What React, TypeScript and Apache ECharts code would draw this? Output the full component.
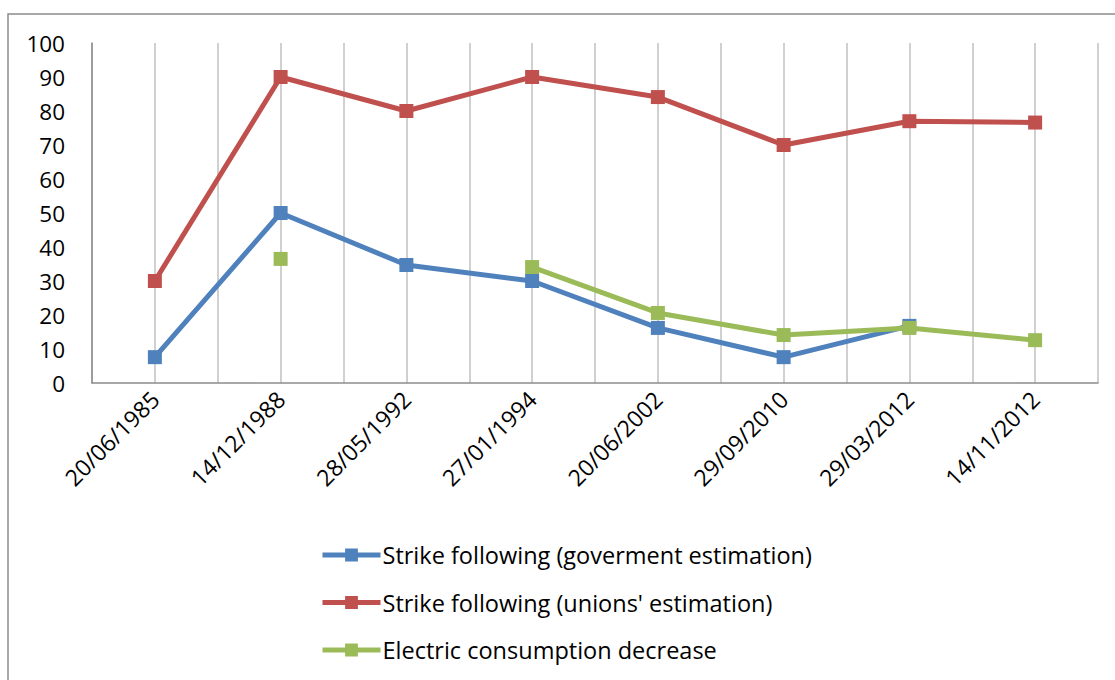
import React, { useEffect, useRef } from "react";
import * as echarts from "echarts";

const categories = ["20/06/1985", "14/12/1988", "28/05/1992", "27/01/1994", "20/06/2002", "29/09/2010", "29/03/2012", "14/11/2012"];
const govValues: (number | null)[] = [7.6, 50, 34.7, 30, 16.2, 7.6, 16.8, null];
const unionValues: (number | null)[] = [30, 90, 80, 90, 84.1, 70, 77, 76.6];
const electricValues: (number | null)[] = [null, 36.5, null, 34.1, 20.6, 14.1, 16.2, 12.6];
const seriesNames = ["Strike following (goverment estimation)", "Strike following (unions' estimation)", "Electric consumption decrease"];
const colors = ["#4F81BD", "#C0504D", "#9BBB59"];

const FONT = "Open Sans";

function toPoints(vals: (number | null)[]) {
  return vals.map((v, i) => [i, v === null ? null : v]);
}

export default function App() {
  const ref = useRef<HTMLDivElement>(null);
  useEffect(() => {
    if (!ref.current) return;
    const chart = echarts.init(ref.current, undefined, { renderer: "svg" });
    const all = [govValues, unionValues, electricValues];
    chart.setOption({
      animation: false,
      backgroundColor: "#ffffff",
      graphic: [
        {
          type: "rect",
          shape: { x: 8, y: 14, width: 1120, height: 700 },
          style: { fill: "none", stroke: "#8c8c8c", lineWidth: 1.5 },
          silent: true,
        },
      ],
      grid: { left: 92, right: 17, top: 43, bottom: 297, containLabel: false },
      xAxis: {
        type: "value",
        min: -0.5,
        max: 7.5,
        interval: 0.5,
        axisLine: { show: true, lineStyle: { color: "#8c8c8c", width: 1.5 } },
        axisTick: { show: false },
        splitLine: { show: true, lineStyle: { color: "#c0c0c0", width: 1.5 } },
        axisLabel: {
          rotate: 45,
          margin: 12,
          fontFamily: FONT,
          fontSize: 23,
          color: "#000",
          showMinLabel: true,
          showMaxLabel: true,
          formatter: (v: number) => (Number.isInteger(v) && v >= 0 && v < categories.length ? categories[v] : ""),
        },
      },
      yAxis: {
        type: "value",
        min: 0,
        max: 100,
        interval: 10,
        axisLine: { show: true, onZero: false, lineStyle: { color: "#8c8c8c", width: 1.5 } },
        axisTick: { show: false },
        splitLine: { show: false },
        axisLabel: { fontFamily: FONT, fontSize: 22.5, color: "#000", margin: 27 },
      },
      legend: {
        orient: "vertical",
        left: 315,
        top: 538,
        itemWidth: 58,
        itemHeight: 16,
        itemGap: 23.5,
        lineStyle: { width: 5 },
        textStyle: { fontFamily: FONT, fontSize: 23.5, color: "#000", padding: [0, 0, 0, -3] },
        data: seriesNames,
      },
      series: all.map((vals, i) => ({
        name: seriesNames[i],
        type: "line",
        data: toPoints(vals),
        connectNulls: false,
        symbol: "rect",
        symbolSize: 14,
        showAllSymbol: true,
        lineStyle: { width: 5, color: colors[i] },
        itemStyle: { color: colors[i] },
        z: 2 + i,
      })),
    });
    return () => chart.dispose();
  }, []);
  return <div ref={ref} style={{ width: 1115, height: 680, position: "absolute", left: 0, top: 0 }} />;
}
